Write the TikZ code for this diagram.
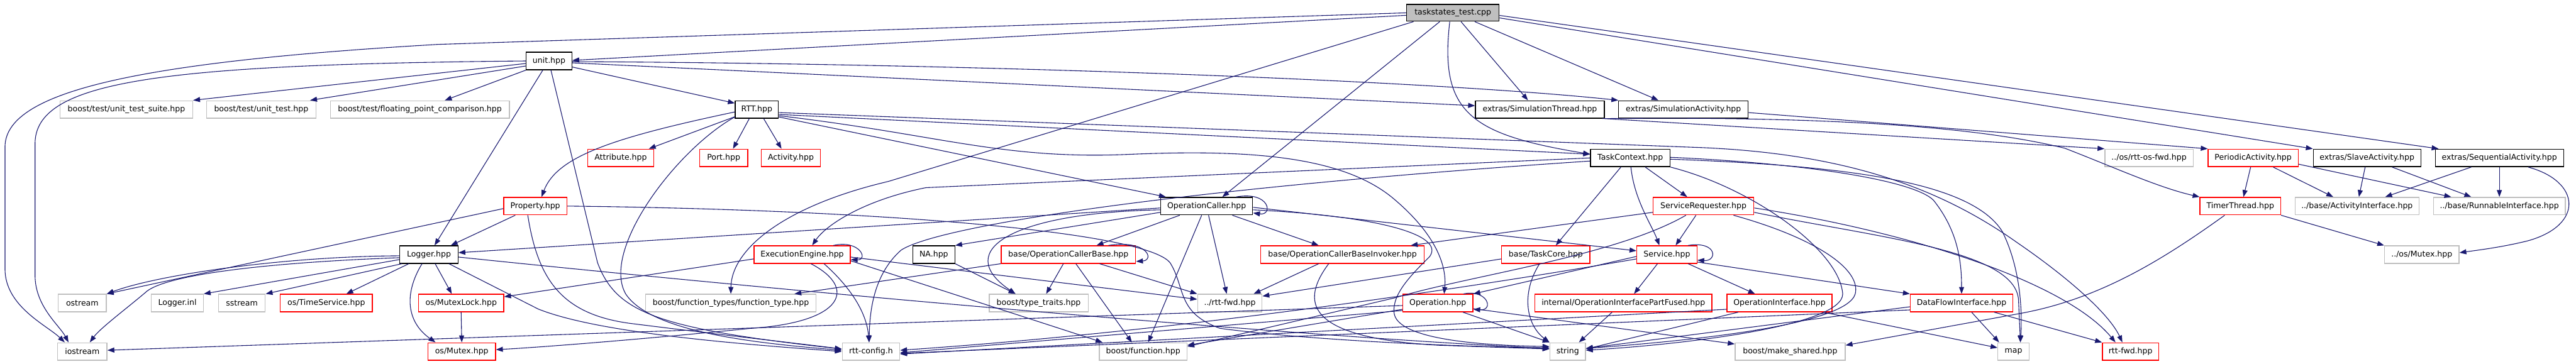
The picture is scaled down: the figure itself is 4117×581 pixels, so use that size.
\documentclass[tikz,border=0pt]{standalone}
\usepackage{fontspec}
\setmainfont{DejaVu Sans}
\usetikzlibrary{arrows.meta}
\definecolor{edgecol}{HTML}{191970}
\definecolor{greyb}{HTML}{BFBFBF}
\definecolor{redb}{HTML}{FF0000}
\begin{document}
\begin{tikzpicture}[x=1pt,y=-1pt,
  nodebox/.style={draw, rectangle, inner sep=0pt, minimum height=28pt, line width=1.3pt, fill=white, text=black, font=\fontsize{12.6}{14}\selectfont},
  nb/.style={nodebox, draw=black},
  rb/.style={nodebox, draw=redb},
  gb/.style={nodebox, draw=greyb},
  dep/.style={draw=edgecol, line width=1.1pt, -{Triangle[length=11pt,width=8pt]}},
]
\useasboundingbox (0,0) rectangle (4117,581);
% row 0
\node[nb, fill=greyb, minimum width=148pt, minimum height=27pt] (T) at (2322,20.5) {taskstates\_test.cpp};
% row 1
\node[nb, minimum width=73pt] (U) at (877.5,97.5) {unit.hpp};
% row 2
\node[gb, minimum width=212pt] (uts) at (202,175) {boost/test/unit\_test\_suite.hpp};
\node[gb, minimum width=175pt] (ut) at (417.5,175) {boost/test/unit\_test.hpp};
\node[gb, minimum width=286pt] (fpc) at (671,175) {boost/test/floating\_point\_comparison.hpp};
\node[nb, minimum width=69pt] (R) at (1209.5,175) {RTT.hpp};
\node[nb, minimum width=206pt] (ST) at (2461,175) {extras/SimulationThread.hpp};
\node[nb, minimum width=207pt] (SA) at (2690.5,175) {extras/SimulationActivity.hpp};
% row 3
\node[rb, minimum width=106pt] (Att) at (992,252.5) {Attribute.hpp};
\node[rb, minimum width=77pt] (Port) at (1156.5,252.5) {Port.hpp};
\node[rb, minimum width=94pt] (Act) at (1264,252.5) {Activity.hpp};
\node[nb, minimum width=127pt] (TC) at (2605.5,252.5) {TaskContext.hpp};
\node[gb, minimum width=141pt] (osfwd) at (3434.5,252.5) {../os/rtt-os-fwd.hpp};
\node[rb, minimum width=144pt] (PA) at (3601,252.5) {PeriodicActivity.hpp};
\node[nb, minimum width=172pt] (SlA) at (3783,252.5) {extras/SlaveActivity.hpp};
\node[nb, minimum width=205pt] (SqA) at (3994.5,252.5) {extras/SequentialActivity.hpp};
% row 4
\node[rb, minimum width=101pt] (Prop) at (855.5,329.5) {Property.hpp};
\node[nb, minimum width=147pt] (OC) at (1928.5,329.5) {OperationCaller.hpp};
\node[rb, minimum width=161pt] (SR) at (2722.5,329.5) {ServiceRequester.hpp};
\node[rb, minimum width=129pt] (TT) at (3580.5,329.5) {TimerThread.hpp};
\node[gb, minimum width=198pt] (AI) at (3767,329.5) {../base/ActivityInterface.hpp};
\node[gb, minimum width=211pt] (RI) at (3994.5,329.5) {../base/RunnableInterface.hpp};
% row 5
\node[nb, minimum width=93pt] (Log) at (685.5,407) {Logger.hpp};
\node[rb, minimum width=154pt] (EE) at (1282,407) {ExecutionEngine.hpp};
\node[nb, minimum width=67pt] (NA) at (1492.5,407) {NA.hpp};
\node[rb, minimum width=215pt] (OCB) at (1707.5,407) {base/OperationCallerBase.hpp};
\node[rb, minimum width=261pt] (OCBI) at (2145.5,407) {base/OperationCallerBaseInvoker.hpp};
\node[rb, minimum width=141pt] (TCore) at (2470.5,407) {base/TaskCore.hpp};
\node[rb, minimum width=96pt] (Svc) at (2664,407) {Service.hpp};
\node[gb, minimum width=119pt] (osM) at (3870.5,407) {../os/Mutex.hpp};
% row 6
\node[gb, minimum width=77pt] (ostream) at (131.5,484.5) {ostream};
\node[gb, minimum width=83pt] (Linl) at (283.5,484.5) {Logger.inl};
\node[gb, minimum width=75pt] (sstream) at (386.5,484.5) {sstream};
\node[rb, minimum width=147pt] (TS) at (521.5,484.5) {os/TimeService.hpp};
\node[rb, minimum width=136pt] (ML) at (737,484.5) {os/MutexLock.hpp};
\node[gb, minimum width=272pt] (FT) at (1168,484.5) {boost/function\_types/function\_type.hpp};
\node[gb, minimum width=158pt] (TT2) at (1660,484.5) {boost/type\_traits.hpp};
\node[gb, minimum width=103pt] (rfwd) at (1965.5,484.5) {../rtt-fwd.hpp};
\node[rb, minimum width=112pt] (Op) at (2298,484.5) {Operation.hpp};
\node[rb, minimum width=283pt] (OIPF) at (2594.5,484.5) {internal/OperationInterfacePartFused.hpp};
\node[rb, minimum width=168pt] (OI) at (2844,484.5) {OperationInterface.hpp};
\node[rb, minimum width=164pt] (DFI) at (3135,484.5) {DataFlowInterface.hpp};
% row 7
\node[gb, minimum width=79pt] (ios) at (131.5,562) {iostream};
\node[rb, minimum width=108pt] (Mtx) at (738,562) {os/Mutex.hpp};
\node[gb, minimum width=92pt] (cfg) at (1392,562) {rtt-config.h};
\node[gb, minimum width=140pt] (bf) at (1827,562) {boost/function.hpp};
\node[gb, minimum width=57pt] (str) at (2505.5,562) {string};
\node[gb, minimum width=176pt] (ms) at (2861,562) {boost/make\_shared.hpp};
\node[gb, minimum width=50pt] (map) at (3218,562) {map};
\node[rb, minimum width=90pt] (rfwd2) at (3405,562) {rtt-fwd.hpp};

% ---- edges from taskstates_test.cpp
\draw[dep] (T.west) -- (700,71) .. controls (200,100) and (8,150) .. (8,235) -- (8,430) .. controls (8,490) and (75,520) .. ([xshift=-28pt]ios.north);
\draw[dep] ([yshift=-4pt]T.west) -- ([yshift=1pt]U.east);
\draw[dep] ([xshift=-63pt]T.south) -- (1420,290) .. controls (1250,330) and (1169,400) .. (FT.north);
\draw[dep] ([xshift=-21pt]T.south) -- ([xshift=25pt]OC.north);
\draw[dep] ([xshift=-5pt]T.south) .. controls (2300,180) and (2350,215) .. ([yshift=6pt]TC.west);
\draw[dep] ([xshift=13pt]T.south) -- ([xshift=-19pt]ST.north);
\draw[dep] ([xshift=35pt]T.south) -- ([xshift=-40pt]SA.north);
\draw[dep] ([yshift=6pt]T.south east) -- (SlA.north west);
\draw[dep] ([yshift=10pt]T.south east) -- ([xshift=6pt]SqA.north west);
% ---- unit.hpp
\draw[dep] ([yshift=-4pt]U.west) -- (uts.north east);
\draw[dep] ([yshift=-8pt]U.west) -- ([xshift=-10pt]ut.north east);
\draw[dep] (U.south west) -- ([xshift=40pt]fpc.north);
\draw[dep] (U.west) .. controls (250,103) and (56,130) .. (56,230) -- (56,440) .. controls (56,490) and (95,520) .. ([xshift=-22pt]ios.north);
\draw[dep] ([yshift=5pt]U.south east) -- ([yshift=10pt]R.west);
\draw[dep] ([xshift=-10pt]U.south) -- ([xshift=9pt]Log.north);
\draw[dep] ([xshift=3pt]U.south) -- (955,420) .. controls (985,500) and (1050,525) .. ([yshift=4pt]cfg.west);
\draw[dep] ([yshift=-3pt]U.east) -- ([yshift=6pt]ST.west);
\draw[dep] ([yshift=-1pt]U.east) .. controls (1600,102) and (2300,130) .. (SA.north west);
% ---- RTT.hpp
\draw[dep] ([yshift=3pt]R.south west) -- ([xshift=45pt]Att.north);
\draw[dep] ([xshift=-12pt]R.south) -- ([xshift=15pt]Port.north);
\draw[dep] ([xshift=11pt]R.south) -- ([xshift=-15pt]Act.north);
\draw[dep] ([yshift=-4pt]R.west) .. controls (980,220) and (890,250) .. ([xshift=10pt]Prop.north);
\draw[dep] ([yshift=-12pt]R.west) .. controls (1080,240) and (960,400) .. (1000,470) .. controls (1040,530) and (1200,548) .. ([yshift=2pt]cfg.west);
\draw[dep] ([yshift=-5pt]R.east) -- (2720,236) .. controls (2950,246) and (3100,300) .. (3224,388) .. controls (3300,440) and (3370,500) .. ([xshift=-13pt]rfwd2.north);
\draw[dep] ([yshift=-8pt]R.east) -- ([yshift=6pt]TC.west);
\draw[dep] ([yshift=-10pt]R.east) .. controls (1500,215) and (1600,255) .. (1800,247) .. controls (2000,238) and (2150,250) .. (2230,320) .. controls (2300,380) and (2312,430) .. ([xshift=10pt]Op.north);
\draw[dep] ([yshift=-12pt]R.east) -- ([xshift=9pt]OC.north west);
% ---- SimulationThread / SimulationActivity
\draw[dep] (ST.south east) -- (osfwd.north west);
\draw[dep] ([xshift=-4pt]ST.south east) .. controls (2900,186) and (3150,200) .. (3300,237) .. controls (3380,268) and (3450,300) .. (TT.north west);
\draw[dep] ([yshift=-5pt]SA.east) -- (PA.north west);
% ---- TaskContext.hpp
\draw[dep] ([xshift=24pt]TC.south) -- ([xshift=-26pt]SR.north);
\draw[dep] ([xshift=-15pt]TC.south) -- ([xshift=16pt]TCore.north);
\draw[dep] ([xshift=1pt]TC.south) .. controls (2612,320) and (2640,360) .. ([xshift=-12pt]Svc.north);
\draw[dep] (TC.west) -- (1480,300) .. controls (1380,320) and (1320,360) .. ([xshift=16pt]EE.north);
\draw[dep] ([yshift=-5pt]TC.west) .. controls (1900,300) and (1500,360) .. (1440,400) .. controls (1395,440) and (1390,500) .. ([xshift=-3pt]cfg.north);
\draw[dep] ([yshift=1pt]TC.east) .. controls (2900,262) and (3060,290) .. (3090,320) .. controls (3130,370) and (3135,420) .. (DFI.north);
\draw[dep] ([yshift=-2pt]TC.east) .. controls (2950,265) and (3150,290) .. (3200,370) .. controls (3230,430) and (3232,500) .. ([xshift=11pt]map.north);
\draw[dep] (TC.south east) .. controls (2800,300) and (2940,400) .. (2945,470) .. controls (2945,520) and (2700,550) .. ([yshift=2pt]str.east);
% ---- ServiceRequester.hpp
\draw[dep] ([yshift=-10pt]SR.west) -- ([xshift=-22pt]OCBI.north east);
\draw[dep] ([xshift=-12pt]SR.south) -- ([xshift=14pt]Svc.north);
\draw[dep] ([yshift=-3pt]SR.east) .. controls (3050,370) and (3300,450) .. ([xshift=-24pt]rfwd2.north);
\draw[dep] ([yshift=-10pt]SR.east) .. controls (3000,380) and (3222,400) .. (3226,480) -- ([xshift=11pt]map.north);
\draw[dep] ([xshift=48pt]SR.south) .. controls (2900,380) and (2975,430) .. (2965,470) .. controls (2950,520) and (2700,545) .. ([yshift=5pt]str.east);
\draw[dep] ([xshift=-28pt]SR.south) .. controls (2580,410) and (2350,440) .. (2230,476) -- ([yshift=8pt]bf.east);
% ---- Service.hpp
\draw[dep] ([yshift=-3pt]Svc.west) -- (Op.north east);
\draw[dep] ([xshift=-15pt]Svc.south) -- ([xshift=17pt]OIPF.north);
\draw[dep] ([xshift=34pt]Svc.south) -- ([xshift=-39pt]OI.north);
\draw[dep] ([yshift=-12pt]Svc.east) -- (DFI.north west);
\draw[dep] ([xshift=34pt]Svc.north) .. controls (2745,385) and (2745,418) .. ([yshift=-9pt]Svc.east);
\draw[dep] ([yshift=-7pt]Svc.west) .. controls (2200,485) and (1800,535) .. ([yshift=2pt]cfg.east);
% ---- OperationCaller.hpp
\draw[dep] ([xshift=47pt]OC.north) .. controls (2030,305) and (2035,345) .. ([yshift=-11pt]OC.east);
\draw[dep] ([yshift=-3pt]OC.west) -- ([yshift=3pt]Log.east);
\draw[dep] ([yshift=-10pt]OC.west) -- (NA.north east);
\draw[dep] ([xshift=-43pt]OC.south) -- ([xshift=45pt]OCB.north);
\draw[dep] ([yshift=-6pt]OC.west) .. controls (1620,340) and (1520,400) .. ([xshift=-37pt]TT2.north);
\draw[dep] ([xshift=3pt]OC.south) -- ([xshift=-5pt]rfwd.north);
\draw[dep] ([xshift=-8pt]OC.south) -- ([xshift=8pt]bf.north);
\draw[dep] ([xshift=41pt]OC.south) -- ([xshift=-38pt]OCBI.north);
\draw[dep] ([yshift=-2pt]OC.east) -- ([yshift=6pt]Svc.west);
\draw[dep] ([yshift=-6pt]OC.east) .. controls (2200,345) and (2310,375) .. (2285,410) .. controls (2255,440) and (2225,470) .. (2228,500) .. controls (2232,540) and (2350,552) .. ([yshift=8pt]str.west);
% ---- Property.hpp
\draw[dep] (Prop.east) .. controls (1400,335) and (1830,370) .. (1870,420) .. controls (1895,460) and (1880,500) .. (1950,525) .. controls (2100,545) and (2350,555) .. ([yshift=6pt]str.west);
\draw[dep] ([xshift=-32pt]Prop.south) -- ([xshift=35pt]Log.north);
\draw[dep] ([yshift=-4pt]Prop.west) -- (ostream.north east);
\draw[dep] ([xshift=-12pt]Prop.south) .. controls (860,450) and (900,505) .. (1015,518) .. controls (1150,535) and (1300,552) .. ([yshift=4pt]cfg.west);
% ---- Logger.hpp
\draw[dep] ([yshift=-2pt]Log.west) .. controls (450,410) and (250,440) .. (ostream.north east);
\draw[dep] ([yshift=-5pt]Log.west) .. controls (420,420) and (260,440) .. (232,468) .. controls (200,495) and (160,525) .. ([xshift=12pt]ios.north);
\draw[dep] ([yshift=-8pt]Log.west) -- (Linl.north east);
\draw[dep] ([xshift=4pt]Log.south west) -- (sstream.north east);
\draw[dep] ([xshift=15pt]Log.south west) -- ([xshift=32pt]TS.north);
\draw[dep] ([xshift=-11pt]Log.south) .. controls (645,470) and (650,515) .. ([xshift=-42pt]Mtx.north);
\draw[dep] ([xshift=10pt]Log.south) -- ([xshift=-15pt]ML.north);
\draw[dep] ([xshift=32pt]Log.south) -- (860,494) .. controls (950,530) and (1150,548) .. (cfg.west);
\draw[dep] ([yshift=-4pt]Log.east) .. controls (1300,470) and (2100,540) .. ([yshift=5pt]str.west);
\draw[dep] (ML.south) -- (Mtx.north);
% ---- ExecutionEngine.hpp
\draw[dep] ([xshift=50pt]EE.north) .. controls (1375,383) and (1388,416) .. ([yshift=-8pt]EE.east);
\draw[dep] ([yshift=-7pt]EE.west) -- ([yshift=10pt]ML.east);
\draw[dep] ([xshift=14pt]EE.south) .. controls (1370,460) and (1350,515) .. (1200,525) .. controls (1000,545) and (850,556) .. ([yshift=3pt]Mtx.east);
\draw[dep] ([xshift=35pt]EE.south) .. controls (1360,460) and (1385,500) .. ([xshift=-3pt]cfg.north);
\draw[dep] ([yshift=-10pt]EE.east) -- ([xshift=-65pt]bf.north);
\draw[dep] ([yshift=-4pt]EE.east) -- ([yshift=6pt]rfwd.west);
% ---- NA / OperationCallerBase / Invoker / TaskCore
\draw[dep] (NA.south east) -- ([xshift=-37pt]TT2.north);
\draw[dep] ([xshift=64pt]OCB.north) .. controls (1835,383) and (1845,416) .. ([yshift=-11pt]OCB.east);
\draw[dep] ([xshift=-8pt]OCB.south) -- ([xshift=12pt]TT2.north);
\draw[dep] ([xshift=12pt]OCB.south) -- ([xshift=-18pt]bf.north);
\draw[dep] ([xshift=50pt]OCB.south) -- (rfwd.north west);
\draw[dep] (OCB.south west) -- ([xshift=-35pt]FT.north east);
\draw[dep] ([xshift=-38pt]OCBI.south) -- ([xshift=-14pt]rfwd.north east);
\draw[dep] ([xshift=-22pt]OCBI.south) .. controls (2080,480) and (2080,540) .. (2300,552) -- ([yshift=4pt]str.west);
\draw[dep] ([yshift=-7pt]TCore.west) -- ([yshift=11pt]rfwd.east);
\draw[dep] ([xshift=-10pt]TCore.south) .. controls (2430,470) and (2440,520) .. (str.north west);
% ---- Operation.hpp
\draw[dep] ([xshift=41pt]Op.north) .. controls (2378,462) and (2388,497) .. ([yshift=-10pt]Op.east);
\draw[dep] ([xshift=40pt]Op.south) -- (str.north west);
\draw[dep] ([yshift=-4pt]Op.west) -- ([yshift=2pt]ios.east);
\draw[dep] ([yshift=-10pt]Op.west) -- ([yshift=10pt]bf.east);
\draw[dep] ([yshift=-9pt]Op.east) -- ([yshift=12pt]ms.west);
\draw[dep] ([yshift=-12pt]Op.west) -- ([yshift=-2pt]cfg.east);
% ---- OperationInterfacePartFused / OperationInterface / DataFlowInterface
\draw[dep] ([xshift=-18pt]OIPF.south) -- ([xshift=18pt]str.north);
\draw[dep] ([xshift=70pt]OI.south) -- ([yshift=6pt]map.west);
\draw[dep] ([xshift=-66pt]OI.south) -- ([yshift=4pt]str.east);
\draw[dep] ([yshift=-10pt]OI.west) -- ([yshift=-4pt]cfg.east);
\draw[dep] ([xshift=16pt]DFI.south) -- ([xshift=-23pt]map.north);
\draw[dep] ([xshift=52pt]DFI.south) -- (rfwd2.north west);
\draw[dep] ([yshift=-6pt]DFI.west) -- ([yshift=5pt]str.east);
\draw[dep] ([yshift=-11pt]DFI.west) -- ([yshift=-3pt]cfg.east);
% ---- TimerThread / activities
\draw[dep] (TT.south east) -- (osM.north west);
\draw[dep] ([xshift=-25pt]TT.south) .. controls (3450,420) and (3350,480) .. (3224,502) -- ([yshift=10pt]ms.east);
\draw[dep] ([xshift=-4pt]PA.south) -- ([xshift=5pt]TT.north);
\draw[dep] ([xshift=32pt]PA.south) -- ([xshift=-38pt]AI.north);
\draw[dep] ([yshift=-10pt]PA.east) -- ([xshift=-77pt]RI.north);
\draw[dep] ([xshift=-3pt]SlA.south) -- ([xshift=3pt]AI.north);
\draw[dep] ([xshift=40pt]SlA.south) -- ([xshift=-45pt]RI.north);
\draw[dep] ([xshift=-45pt]SqA.south) -- ([xshift=45pt]AI.north);
\draw[dep] (SqA.south) -- (RI.north);
\draw[dep] ([xshift=46pt]SqA.south) .. controls (4125,290) and (4130,360) .. (4040,385) .. controls (4000,395) and (3960,400) .. ([yshift=3pt]osM.east);
\end{tikzpicture}
\end{document}
